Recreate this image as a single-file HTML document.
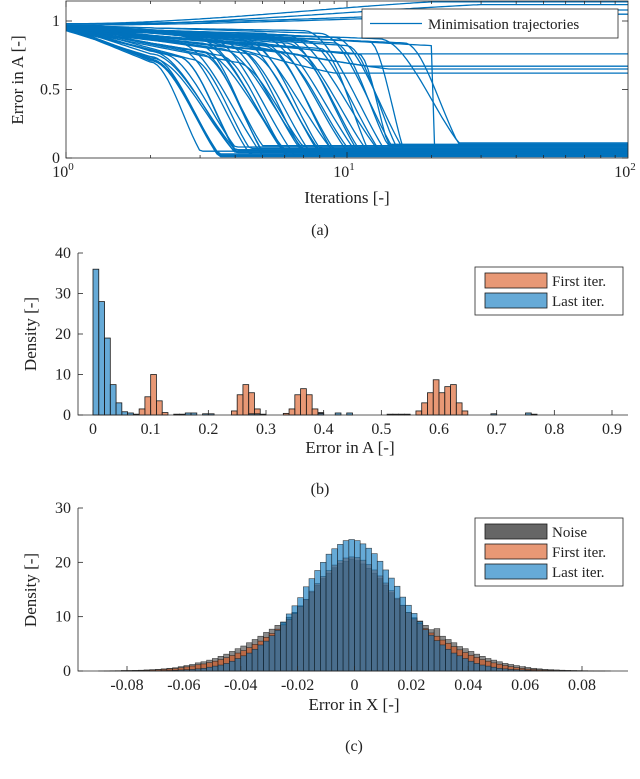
<!DOCTYPE html>
<html><head><meta charset="utf-8">
<style>
html,body{margin:0;padding:0;background:#fff;}
svg{display:block;font-family:"Liberation Serif","DejaVu Serif",serif;}
</style></head>
<body>
<svg id="fig" width="640" height="779" viewBox="0 0 640 779">
<g id="pa"></g>
<g id="pb"></g>
<g id="pc"></g>
</svg>
<script>
// ---------- Panel (a) data ----------
var trajStart = [0.95,0.94,0.96,0.93,0.97,0.95,0.96,0.94,0.95,0.97,0.93,0.96,0.95,0.94,0.97,0.96,0.95,0.93,0.94,0.96,0.95,0.97,0.94,0.95,0.96,0.93,0.95,0.94,0.97,0.96,0.95,0.94,0.96,0.95,0.93,0.97,0.95,0.94,0.96,0.95,0.94,0.96,0.95,0.97,0.96,0.95,0.94,0.96,0.97,0.98,0.98,0.97,0.98,0.96,0.95,0.96,0.97,0.95,0.94,0.96];
var trajKneeIter = [2,2,2,2,2,2.2,2.5,2.5,2.5,2.8,3,3,3,3,3.2,3.5,3.5,3.5,4,4,4,4,4.5,4.5,5,5,5,5.5,6,6,6,6.5,7,7,8,8,9,9,10,11,12,13,16,20,2,2.5,3,4,5,1,1,1,1,1.5,1.5,1.5,1.5,2,3,2];
var trajKneeVal = [0.70,0.72,0.76,0.74,0.78,0.76,0.80,0.74,0.84,0.72,0.82,0.86,0.76,0.84,0.88,0.80,0.75,0.86,0.70,0.88,0.80,0.90,0.84,0.76,0.88,0.82,0.91,0.78,0.87,0.84,0.90,0.76,0.93,0.86,0.80,0.91,0.84,0.88,0.82,0.76,0.85,0.87,0.84,0.82,0.72,0.74,0.78,0.80,0.84,0.97,0.98,0.97,0.98,0.93,0.92,0.90,0.94,0.73,0.78,0.71];
var trajEndIter = [3,3.5,4,3.5,4,4,4.5,4,5,4.5,5,6,5,6,6.5,7,6,7,7,8,7.5,9,8,8,10,9,11,10,11,12,13,11,14,13,12,15,14,16,15,14,16,25,25,6,3.5,4,5,7,9,30,60,40,20,10,12,14,9,4,6,3.5];
var trajFinal = [0.05,0.03,0.06,0.02,0.04,0.08,0.03,0.05,0.02,0.07,0.04,0.03,0.09,0.05,0.02,0.06,0.04,0.03,0.08,0.05,0.02,0.04,0.07,0.03,0.05,0.06,0.02,0.08,0.04,0.03,0.05,0.07,0.02,0.06,0.04,0.03,0.09,0.05,0.08,0.1,0.04,0.11,0.1,0.03,0.02,0.06,0.05,0.04,0.03,1.12,1.08,1.05,1.14,0.76,0.67,0.65,0.62,0.04,0.06,0.01];
var aXTicks = [1,10,100];
var aXTickLabels = ["0","1","2"];
var aYTicks = [0,0.5,1];
var aYTickLabels = ["0","0.5","1"];

// ---------- Panel (b) data ----------
var bBinWidth = 0.01;
var bFirstStarts = [0.08,0.09,0.10,0.11,0.12,0.24,0.25,0.26,0.27,0.28,0.33,0.34,0.35,0.36,0.37,0.38,0.39,0.56,0.57,0.58,0.59,0.60,0.61,0.62,0.63,0.64];
var bFirstValues = [1.5,4.5,10,3.5,0.6,1,5,7.5,5.5,1.5,0.4,1.5,5,6.5,5,1.5,0.6,1,3,5.5,8.7,5.5,7,7.5,3,1];
var bLastStarts = [0,0.01,0.02,0.03,0.04,0.05,0.06,0.07,0.14,0.15,0.16,0.17,0.19,0.20,0.27,0.28,0.29,0.39,0.42,0.44,0.51,0.52,0.53,0.54,0.69,0.75,0.76];
var bLastValues = [36,28,19,7.5,3,0.8,0.5,0.2,0.2,0.2,0.5,0.5,0.3,0.3,0.3,0.3,0.2,0.4,0.5,0.5,0.2,0.2,0.2,0.2,0.3,0.5,0.2];
var bXTicks = [0,0.1,0.2,0.3,0.4,0.5,0.6,0.7,0.8,0.9];
var bYTicks = [0,10,20,30,40];

// ---------- Panel (c) data ----------
var cBinStart = -0.09;
var cBinWidth = 0.002;
var cNoise = [0.02,0.03,0.05,0.06,0.1,0.1,0.12,0.15,0.2,0.25,0.3,0.4,0.5,0.6,0.8,1.0,1.2,1.5,1.7,2.0,2.3,2.7,3.1,3.6,4.1,4.6,5.2,5.8,6.4,7.1,7.7,8.4,9.0,9.9,10.8,12.0,13.1,14.5,15.8,17.0,18.0,19.0,19.8,20.2,20.6,20.3,19.7,18.9,18.0,17.0,15.8,14.4,13.2,12.1,10.8,9.8,9.2,8.4,7.6,7.8,6.4,5.8,5.2,4.5,4.1,3.6,3.1,2.7,2.3,2.0,1.7,1.4,1.2,1.0,0.8,0.65,0.5,0.4,0.3,0.25,0.2,0.15,0.12,0.1,0.08,0.06,0.04,0.03,0.02,0.02];
var cFirst = [0,0.02,0.03,0.04,0.06,0.07,0.09,0.11,0.15,0.19,0.23,0.3,0.38,0.46,0.6,0.76,0.92,1.15,1.3,1.55,1.8,2.1,2.45,2.85,3.3,3.75,4.3,4.9,5.5,6.2,6.9,7.7,8.5,9.5,10.6,11.9,13.2,14.7,16.1,17.4,18.5,19.5,20.3,20.8,21.0,20.9,20.4,19.6,18.6,17.5,16.2,14.8,13.4,12.1,10.8,9.6,8.7,7.8,7.0,6.4,5.7,5.1,4.5,3.9,3.4,2.9,2.5,2.1,1.8,1.5,1.25,1.0,0.8,0.62,0.48,0.36,0.28,0.22,0.17,0.13,0.1,0.08,0.06,0.05,0.04,0.03,0.02,0.01,0.01,0];
var cLast = [0,0,0,0,0.01,0.01,0.02,0.02,0.03,0.04,0.05,0.08,0.1,0.15,0.2,0.25,0.3,0.4,0.5,0.7,0.9,1.1,1.4,1.8,2.3,2.8,3.3,4.0,4.8,5.5,6.5,7.5,9.0,10.5,12.0,13.5,15.5,17.0,18.5,20.0,21.5,22.5,23.3,24.0,24.2,24.0,23.4,22.6,21.6,20.2,18.6,17.1,15.6,13.6,12.1,10.6,9.1,7.6,6.6,5.6,4.8,4.0,3.3,2.8,2.3,1.8,1.4,1.1,0.9,0.7,0.5,0.4,0.3,0.25,0.2,0.15,0.1,0.08,0.05,0.04,0.03,0.02,0.02,0.01,0.01,0,0,0,0,0];
var cXTicks = [-0.08,-0.06,-0.04,-0.02,0,0.02,0.04,0.06,0.08];
var cXTickLabels = ["-0.08","-0.06","-0.04","-0.02","0","0.02","0.04","0.06","0.08"];
var cYTicks = [0,10,20,30];

var NS = "http://www.w3.org/2000/svg";
function mk(tag, attrs, parent){
  var e = document.createElementNS(NS, tag);
  for (var k in attrs) e.setAttribute(k, attrs[k]);
  if (parent) parent.appendChild(e);
  return e;
}
function txt(parent, x, y, s, size, anchor, name){
  var t = mk("text", {x:x, y:y, "font-size":size, "text-anchor":anchor||"middle", fill:"#222"}, parent);
  t.textContent = s;
  
  
  return t;
}

// ================= Panel (a) =================
(function(){
  var g = document.getElementById("pa");
  var L=66, R=628, T=1, B=158;
  function xs(lx){ return L + lx/2*(R-L); }
  function ys(v){ return B - v*137; }
  function trajVal(i, lx){
    var lk = Math.log(trajKneeIter[i])/Math.LN10, le = Math.log(trajEndIter[i])/Math.LN10;
    var s0 = trajStart[i], vk = trajKneeVal[i], f = trajFinal[i];
    if (lx <= lk && lk > 0){ var w = lx/lk; return s0 + (vk-s0)*w; }
    if (lx >= le) return f;
    var u = (lx-lk)/(le-lk);
    var sh = 0.5*u*u + 0.5*u*u*(3-2*u);
    return vk + (f-vk)*sh;
  }
  mk("rect",{x:L,y:T,width:R-L,height:B-T,fill:"#fff"},g);
  var cp = mk("clipPath",{id:"clipA"},g);
  mk("rect",{x:L,y:T,width:R-L,height:B-T},cp);
  var lines = mk("g",{"clip-path":"url(#clipA)"},g);
  
  
  for (var i=0;i<trajStart.length;i++){
    var d = "";
    for (var s=0;s<=160;s++){
      var lx = s/80;
      d += (s?"L":"M") + xs(lx).toFixed(1) + "," + ys(trajVal(i,lx)).toFixed(1) + " ";
    }
    var p = mk("path",{d:d,fill:"none",stroke:"#0072BD","stroke-width":1.3,"stroke-linejoin":"round"},lines);
    
    
  }
  var box = mk("rect",{x:L,y:T,width:R-L,height:B-T,fill:"none",stroke:"#262626","stroke-width":0.8},g);
  
  
  for (var dec=0; dec<2; dec++){
    for (var m=1;m<=9;m++){
      var x = xs(dec + Math.log(m)/Math.LN10), len = m===1?6:3;
      mk("line",{x1:x,y1:B,x2:x,y2:B-len,stroke:"#262626","stroke-width":0.8},g);
      mk("line",{x1:x,y1:T,x2:x,y2:T+len,stroke:"#262626","stroke-width":0.8},g);
    }
  }
  aXTicks.forEach(function(v,i){
    var x = xs(Math.log(v)/Math.LN10);
    var t = mk("text",{x:x-3,y:B+19,"font-size":16,"text-anchor":"middle",fill:"#222"},g);
    
    
    t.appendChild(document.createTextNode("10"));
    var sp = mk("tspan",{dy:-7,"font-size":11},t); sp.textContent = aXTickLabels[i];
  });
  aYTicks.forEach(function(v,i){
    var y = ys(v);
    mk("line",{x1:L,y1:y,x2:L+6,y2:y,stroke:"#262626","stroke-width":0.8},g);
    mk("line",{x1:R,y1:y,x2:R-6,y2:y,stroke:"#262626","stroke-width":0.8},g);
    txt(g, L-6, y+5, aYTickLabels[i], 16, "end", "y-tick-label-a");
  });
  txt(g, 347, 203, "Iterations [-]", 17, "middle", "x-axis-title-a");
  var yt = txt(g, 0, 0, "Error in A [-]", 17, "middle", "y-axis-title-a");
  yt.setAttribute("transform","translate(23,80) rotate(-90)");
  txt(g, 320, 235, "(a)", 16, "middle", "caption-a");
  var lg = mk("g",{},g);
  
  
  mk("rect",{x:362,y:9,width:256,height:29,fill:"#fff",stroke:"#262626","stroke-width":0.8},lg);
  mk("line",{x1:370,y1:23.5,x2:422,y2:23.5,stroke:"#0072BD","stroke-width":1.3},lg);
  txt(lg, 428, 29, "Minimisation trajectories", 15, "start", "legend-entry-trajectories");
})();

function axesOpen(g, L, R, T, B, name){
  var ax = mk("path",{d:"M"+L+","+T+" L"+L+","+B+" L"+R+","+B,fill:"none",stroke:"#262626","stroke-width":0.8},g);
  
  
}

// ================= Panel (b) =================
(function(){
  var g = document.getElementById("pb");
  var L=78, R=628, T=253, B=415;
  var x0=93, x9=612;
  function xs(v){ return x0 + v/0.9*(x9-x0); }
  function ys(v){ return B - v/40*(B-T); }
  var bars = mk("g",{},g);
  
  
  function drawSeries(starts, vals, fill, nm){
    starts.forEach(function(s,i){
      var x1=xs(s), x2=xs(s+bBinWidth), y=ys(vals[i]);
      var r = mk("rect",{x:x1,y:y,width:x2-x1,height:B-y,fill:fill,"fill-opacity":0.6,stroke:"#1a1a1a","stroke-width":0.8},bars);
      
      
    });
  }
  drawSeries(bFirstStarts,bFirstValues,"#D95319","bar-first-iter");
  drawSeries(bLastStarts,bLastValues,"#0072BD","bar-last-iter");
  axesOpen(g,L,R,T,B,"axes-b");
  bXTicks.forEach(function(v){
    var x=xs(v);
    mk("line",{x1:x,y1:B,x2:x,y2:B-5,stroke:"#262626","stroke-width":0.8},g);
    txt(g, x, B+19, String(v), 16, "middle", "x-tick-label-b");
  });
  bYTicks.forEach(function(v){
    var y=ys(v);
    mk("line",{x1:L,y1:y,x2:L+5,y2:y,stroke:"#262626","stroke-width":0.8},g);
    txt(g, L-7, y+5, String(v), 16, "end", "y-tick-label-b");
  });
  txt(g, 350, 453, "Error in A [-]", 17, "middle", "x-axis-title-b");
  var yt = txt(g, 0, 0, "Density [-]", 17, "middle", "y-axis-title-b");
  yt.setAttribute("transform","translate(36,334) rotate(-90)");
  txt(g, 320, 494, "(b)", 16, "middle", "caption-b");
  var lg = mk("g",{},g);
  
  
  mk("rect",{x:475,y:267,width:148,height:48,fill:"#fff",stroke:"#262626","stroke-width":0.8},lg);
  mk("rect",{x:485,y:273,width:62,height:15,fill:"#D95319","fill-opacity":0.6,stroke:"#1a1a1a","stroke-width":0.8},lg);
  mk("rect",{x:485,y:293,width:62,height:15,fill:"#0072BD","fill-opacity":0.6,stroke:"#1a1a1a","stroke-width":0.8},lg);
  txt(lg, 552, 286, "First iter.", 15, "start", "legend-entry-first-iter");
  txt(lg, 552, 306, "Last iter.", 15, "start", "legend-entry-last-iter");
})();

// ================= Panel (c) =================
(function(){
  var g = document.getElementById("pc");
  var L=78, R=628, T=508, B=671;
  var xa=127, xb=582;
  function xs(v){ return xa + (v+0.08)/0.16*(xb-xa); }
  function ys(v){ return B - v/30*(B-T); }
  var bars = mk("g",{},g);
  
  
  function drawSeries(vals, fill, nm){
    vals.forEach(function(v,i){
      if (v<=0) return;
      var s = cBinStart + i*cBinWidth;
      var x1=xs(s), x2=xs(s+cBinWidth), y=ys(v);
      var r = mk("rect",{x:x1,y:y,width:x2-x1,height:B-y,fill:fill,"fill-opacity":0.6,stroke:"#1a1a1a","stroke-width":0.6,"stroke-opacity":0.8},bars);
      
      
    });
  }
  drawSeries(cNoise,"#404040","bar-noise");
  drawSeries(cFirst,"#D95319","bar-first-iter");
  drawSeries(cLast,"#0072BD","bar-last-iter");
  axesOpen(g,L,R,T,B,"axes-c");
  cXTicks.forEach(function(v,i){
    var x=xs(v);
    mk("line",{x1:x,y1:B,x2:x,y2:B-5,stroke:"#262626","stroke-width":0.8},g);
    txt(g, x, B+19, cXTickLabels[i], 16, "middle", "x-tick-label-c");
  });
  cYTicks.forEach(function(v){
    var y=ys(v);
    mk("line",{x1:L,y1:y,x2:L+5,y2:y,stroke:"#262626","stroke-width":0.8},g);
    txt(g, L-7, y+5, String(v), 16, "end", "y-tick-label-c");
  });
  txt(g, 354, 710, "Error in X [-]", 17, "middle", "x-axis-title-c");
  var yt = txt(g, 0, 0, "Density [-]", 17, "middle", "y-axis-title-c");
  yt.setAttribute("transform","translate(36,590) rotate(-90)");
  txt(g, 354, 751, "(c)", 16, "middle", "caption-c");
  var lg = mk("g",{},g);
  
  
  mk("rect",{x:475,y:518,width:148,height:68,fill:"#fff",stroke:"#262626","stroke-width":0.8},lg);
  mk("rect",{x:485,y:524,width:62,height:15,fill:"#404040","fill-opacity":0.8,stroke:"#1a1a1a","stroke-width":0.8},lg);
  mk("rect",{x:485,y:544,width:62,height:15,fill:"#D95319","fill-opacity":0.6,stroke:"#1a1a1a","stroke-width":0.8},lg);
  mk("rect",{x:485,y:564,width:62,height:15,fill:"#0072BD","fill-opacity":0.6,stroke:"#1a1a1a","stroke-width":0.8},lg);
  txt(lg, 552, 537, "Noise", 15, "start", "legend-entry-noise");
  txt(lg, 552, 557, "First iter.", 15, "start", "legend-entry-first-iter");
  txt(lg, 552, 577, "Last iter.", 15, "start", "legend-entry-last-iter");
})();
</script>
</body></html>
